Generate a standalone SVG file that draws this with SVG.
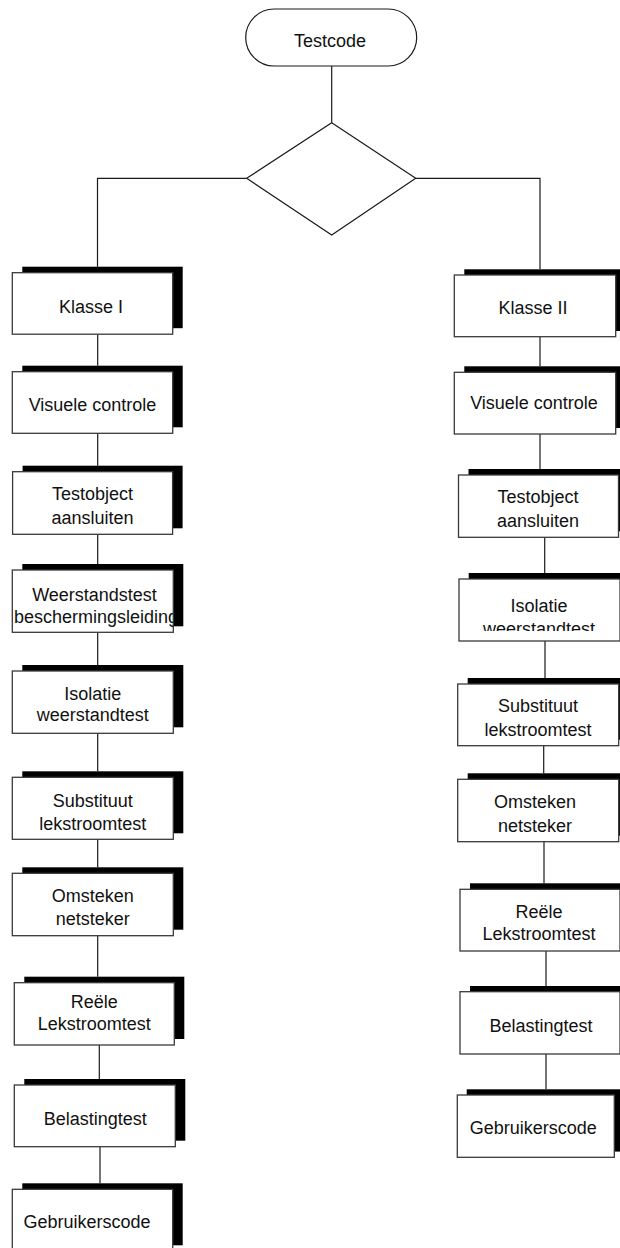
<svg xmlns="http://www.w3.org/2000/svg" width="620" height="1248" viewBox="0 0 620 1248">
  <style>
    .sh { fill: #000; }
    .bx { fill: #fff; stroke: #3a3a3a; stroke-width: 1.3; }
    .term, .dia { fill: #fff; stroke: #1a1a1a; stroke-width: 1.2; }
    .lb { font-family: "Liberation Sans", Arial, sans-serif; font-size: 18px; fill: #111; text-anchor: middle; }
    .ln { fill: none; stroke: #1a1a1a; stroke-width: 1.2; }
  </style>
  <defs>
    <!-- text that runs past its box is cut at the box edge -->
    <clipPath id="clipWeerstand"><rect x="12.3" y="570" width="161" height="62.3"/></clipPath>
    <clipPath id="clipIsolatieR"><rect x="459" y="579" width="161" height="52"/></clipPath>
  </defs>
  <rect width="620" height="1248" fill="#fff"/>

  <!-- connectors -->
  <g id="connectors" class="ln">
    <path d="M331.7 66 V122.7"/>
    <path d="M246.7 178.3 H97.5 V266.7"/>
    <path d="M415.7 178.3 H540 V269.3"/>
    <!-- left column -->
    <path d="M97.7 334 V365.7"/>
    <path d="M97.7 433.3 V465.7"/>
    <path d="M97.7 534.3 V564"/>
    <path d="M97.7 632.3 V665"/>
    <path d="M97.7 733.3 V771.3"/>
    <path d="M97.7 839.3 V867.3"/>
    <path d="M97.7 935.7 V976.7"/>
    <path d="M99.3 1045 V1079"/>
    <path d="M100 1146.7 V1183.3"/>
    <!-- right column -->
    <path d="M540 336.7 V366.3"/>
    <path d="M540 434 V469"/>
    <path d="M544.7 537.3 V573"/>
    <path d="M545 641 V678"/>
    <path d="M543.7 745.7 V773.3"/>
    <path d="M544 841.7 V883.3"/>
    <path d="M546 951 V986"/>
    <path d="M546 1054 V1089.3"/>
  </g>

  <g id="start">
    <rect class="term" x="245.7" y="9" width="171" height="57" rx="28.5" ry="28.5"/>
    <text class="lb" x="330" y="46.7">Testcode</text>
  </g>

  <g id="decision">
    <polygon class="dia" points="331.7,122.7 415.7,178.3 331.7,235 246.7,178.3"/>
  </g>

  <!-- left column -->
  <g id="klasse1">
    <rect class="sh" x="22.3" y="266.7" width="160.4" height="61.5"/>
    <rect class="bx" x="12.3" y="272.7" width="160.4" height="61.5"/>
    <text class="lb" x="91" y="313.3">Klasse I</text>
  </g>
  <g id="visueel1">
    <rect class="sh" x="22.3" y="365.7" width="160.4" height="61.6"/>
    <rect class="bx" x="12.3" y="371.7" width="160.4" height="61.6"/>
    <text class="lb" x="92.5" y="411">Visuele controle</text>
  </g>
  <g id="testobject1">
    <rect class="sh" x="22.6" y="465.7" width="160" height="62.6"/>
    <rect class="bx" x="12.6" y="471.7" width="160" height="62.6"/>
    <text class="lb" x="92.6" y="500">Testobject</text>
    <text class="lb" x="92.6" y="524.3">aansluiten</text>
  </g>
  <g id="weerstand1">
    <rect class="sh" x="22.3" y="564" width="161" height="62.3"/>
    <rect class="bx" x="12.3" y="570" width="161" height="62.3"/>
    <g clip-path="url(#clipWeerstand)">
      <text class="lb" x="94.5" y="601">Weerstandstest</text>
      <text class="lb" x="96" y="623.3">beschermingsleiding</text>
    </g>
  </g>
  <g id="isolatie1">
    <rect class="sh" x="22.3" y="665" width="161" height="62.3"/>
    <rect class="bx" x="12.3" y="671" width="161" height="62.3"/>
    <text class="lb" x="92.8" y="700">Isolatie</text>
    <text class="lb" x="92.8" y="721">weerstandtest</text>
  </g>
  <g id="substituut1">
    <rect class="sh" x="22.3" y="771.3" width="161" height="62"/>
    <rect class="bx" x="12.3" y="777.3" width="161" height="62"/>
    <text class="lb" x="92.8" y="806.7">Substituut</text>
    <text class="lb" x="92.8" y="830">lekstroomtest</text>
  </g>
  <g id="omsteken1">
    <rect class="sh" x="22.3" y="867.3" width="161" height="62.4"/>
    <rect class="bx" x="12.3" y="873.3" width="161" height="62.4"/>
    <text class="lb" x="92.8" y="901.7">Omsteken</text>
    <text class="lb" x="92.8" y="925">netsteker</text>
  </g>
  <g id="reele1">
    <rect class="sh" x="24.3" y="976.7" width="160" height="62.3"/>
    <rect class="bx" x="14.3" y="982.7" width="160" height="62.3"/>
    <text class="lb" x="94.3" y="1008.3">Reële</text>
    <text class="lb" x="94.3" y="1030">Lekstroomtest</text>
  </g>
  <g id="belasting1">
    <rect class="sh" x="24.3" y="1079" width="161" height="61.7"/>
    <rect class="bx" x="14.3" y="1085" width="161" height="61.7"/>
    <text class="lb" x="95.3" y="1125">Belastingtest</text>
  </g>
  <g id="gebruiker1">
    <rect class="sh" x="22.3" y="1183.3" width="160.4" height="62"/>
    <rect class="bx" x="12.3" y="1189.3" width="160.4" height="62"/>
    <text class="lb" x="87" y="1228.3">Gebruikerscode</text>
  </g>

  <!-- right column -->
  <g id="klasse2">
    <rect class="sh" x="464.3" y="269.3" width="161.4" height="61.7"/>
    <rect class="bx" x="454.3" y="275" width="161.4" height="61.7"/>
    <text class="lb" x="533" y="314.3">Klasse II</text>
  </g>
  <g id="visueel2">
    <rect class="sh" x="464.3" y="366.3" width="161.4" height="61.7"/>
    <rect class="bx" x="454.3" y="372.3" width="161.4" height="61.7"/>
    <text class="lb" x="534" y="409">Visuele controle</text>
  </g>
  <g id="testobject2">
    <rect class="sh" x="468.5" y="469" width="160" height="62.3"/>
    <rect class="bx" x="458.5" y="475" width="160" height="62.3"/>
    <text class="lb" x="538" y="502.7">Testobject</text>
    <text class="lb" x="538" y="526.7">aansluiten</text>
  </g>
  <g id="isolatie2">
    <rect class="sh" x="468.7" y="573" width="161" height="62"/>
    <rect class="bx" x="459" y="579" width="161" height="62"/>
    <g clip-path="url(#clipIsolatieR)">
      <text class="lb" x="539" y="611.7">Isolatie</text>
      <text class="lb" x="539" y="634.5">weerstandtest</text>
    </g>
  </g>
  <g id="substituut2">
    <rect class="sh" x="467.7" y="678" width="161" height="61.7"/>
    <rect class="bx" x="457.7" y="684" width="161" height="61.7"/>
    <text class="lb" x="538" y="711.7">Substituut</text>
    <text class="lb" x="538" y="735.7">lekstroomtest</text>
  </g>
  <g id="omsteken2">
    <rect class="sh" x="467.7" y="773.3" width="161" height="62.4"/>
    <rect class="bx" x="457.7" y="779.3" width="161" height="62.4"/>
    <text class="lb" x="535" y="808.3">Omsteken</text>
    <text class="lb" x="535" y="831.7">netsteker</text>
  </g>
  <g id="reele2">
    <rect class="sh" x="470" y="883.3" width="160" height="61.7"/>
    <rect class="bx" x="460" y="889.3" width="160" height="61.7"/>
    <text class="lb" x="539" y="918.3">Reële</text>
    <text class="lb" x="539" y="940">Lekstroomtest</text>
  </g>
  <g id="belasting2">
    <rect class="sh" x="470" y="986" width="160" height="62.3"/>
    <rect class="bx" x="460" y="991.7" width="160" height="62.3"/>
    <text class="lb" x="541" y="1031.7">Belastingtest</text>
  </g>
  <g id="gebruiker2">
    <rect class="sh" x="466.7" y="1089.3" width="153.3" height="62.3"/>
    <rect class="bx" x="457.3" y="1095" width="157" height="62.3"/>
    <text class="lb" x="533.2" y="1134">Gebruikerscode</text>
  </g>
</svg>
